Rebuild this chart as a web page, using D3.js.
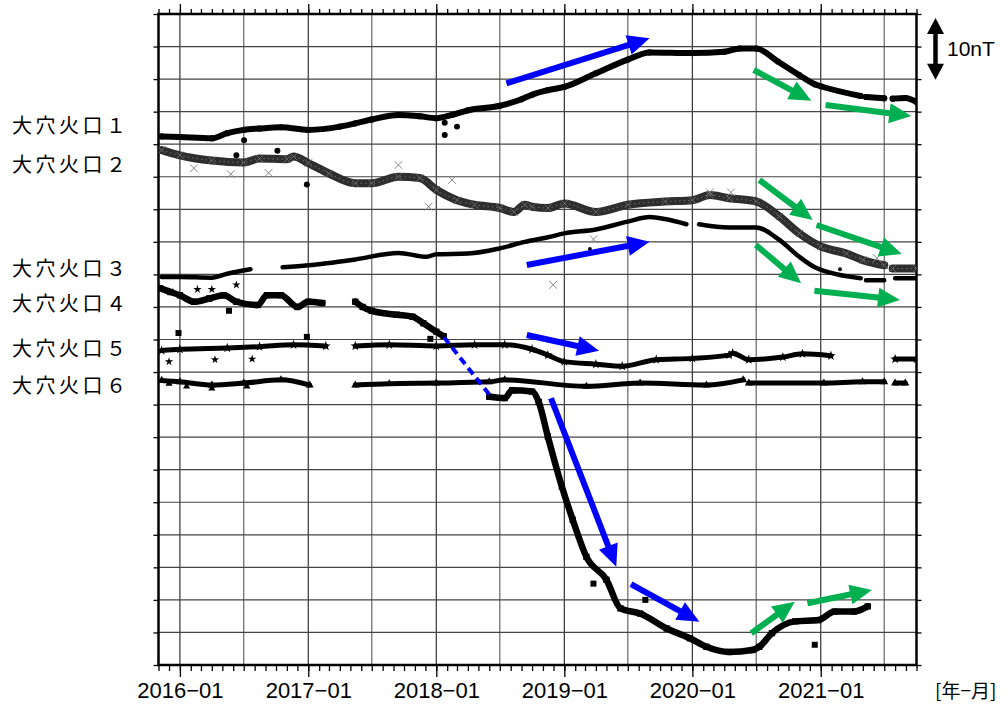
<!DOCTYPE html>
<html><head><meta charset="utf-8">
<script src="https://cdn.jsdelivr.net/npm/d3@7"></script>
<style>body{margin:0;background:#fff}svg{display:block}</style>
</head><body>
<svg id="c" width="1008" height="704"></svg>
<script>
// ---- data (relative magnetic total force, nT, offset per station) ----
const seriesNames = ["大穴火口１","大穴火口２","大穴火口３","大穴火口４","大穴火口５","大穴火口６"];
const labelLevels = [82.95, 76.96, 61.06, 55.76, 48.77, 43.16];

const s1 = [["2015-11-10",81.2],["2016-01-01",81.1],["2016-04-01",80.9],["2016-05-15",81.7],["2016-07-01",82.2],["2016-08-15",82.4],["2016-10-15",82.6],["2017-01-01",82.2],["2017-04-01",82.7],["2017-05-15",83.2],["2017-07-01",83.8],["2017-09-15",84.5],["2017-11-15",84.3],["2018-01-01",84.0],["2018-02-15",84.5],["2018-04-01",85.2],["2018-07-01",85.9],["2018-09-01",86.9],["2018-10-01",87.6],["2018-11-15",88.3],["2019-01-01",88.8],["2019-04-01",90.9],["2019-07-01",93.0],["2019-09-01",94.1],["2020-01-01",94.0],["2020-04-01",94.2],["2020-05-15",94.7],["2020-07-01",94.7],["2020-09-01",92.7],["2020-11-01",90.6],["2020-12-15",89.2],["2021-01-01",88.9],["2021-04-25",87.4],null,["2021-05-10",87.25],["2021-07-01",87.05],null,["2021-07-25",87.0],["2021-08-30",87.1],["2021-10-01",86.5]];
const s1Out = [["2016-07-02",80.6],["2016-06-10",78.3],["2016-10-05",79.0],["2016-12-28",73.8],["2018-01-25",81.4],["2018-03-01",82.7],["2018-01-25",83.3]];

const s2 = [["2015-11-10",79.1],["2016-01-01",78.3],["2016-04-01",77.5],["2016-07-01",77.2],["2016-08-15",77.8],["2016-11-01",77.7],["2016-11-20",78.1],["2017-01-01",77.1],["2017-03-01",75.5],["2017-05-15",74.0],["2017-07-01",74.0],["2017-09-15",75.0],["2017-11-15",74.8],["2018-01-01",73.0],["2018-03-01",71.4],["2018-04-20",70.7],["2018-07-01",70.2],["2018-08-10",69.6],["2018-09-10",70.7],["2018-10-01",70.4],["2018-11-15",70.2],["2019-01-01",70.9],["2019-04-01",69.6],["2019-07-01",70.7],["2019-10-15",71.2],["2020-01-01",71.4],["2020-02-20",72.2],["2020-04-15",71.7],["2020-07-01",71.2],["2020-09-05",68.9],["2020-11-01",66.3],["2021-01-01",64.3],["2021-03-15",63.2],["2021-05-01",62.2],["2021-07-01",61.4],null,["2021-07-25",60.9],["2021-10-01",60.9]];
const s2Out = [["2016-02-10",76.3],["2016-05-25",75.4],["2016-09-10",75.6],["2017-12-10",70.4],["2018-02-15",74.5],["2017-09-15",76.8],["2018-11-30",58.4],["2019-03-25",65.4],["2020-02-20",72.6],["2020-04-20",72.6],["2021-06-10",62.5]];

const s3 = [["2015-11-10",59.6],["2016-01-01",59.6],["2016-04-01",59.5],["2016-05-15",60.1],["2016-07-20",60.8],null,["2016-10-20",61.1],["2017-01-01",61.4],["2017-05-15",62.3],["2017-09-15",63.3],["2017-12-05",62.7],["2018-01-01",63.1],["2018-04-01",63.2],["2018-07-01",64.0],["2018-09-10",65.0],["2018-11-15",65.7],["2019-01-01",66.3],["2019-04-01",66.9],["2019-07-01",68.1],["2019-09-01",68.8],["2019-10-15",68.5],["2019-12-15",67.7],null,["2020-01-20",67.7],["2020-04-15",67.2],["2020-07-01",67.2],["2020-09-05",65.3],["2020-11-01",62.7],["2020-12-15",61.1],["2021-01-25",60.3],["2021-04-25",59.4],null,["2021-05-10",59.1],["2021-07-01",59.1],null,["2021-08-01",59.4],["2021-10-01",59.4]];
const s3Out = [["2019-03-15",63.9],["2021-02-25",60.8]];

const s4 = [["2015-11-05",57.9],["2015-12-05",57.3],["2016-01-01",56.8],["2016-02-10",55.8],["2016-03-25",56.3],["2016-05-05",56.8],["2016-06-10",55.8],["2016-08-10",55.3],["2016-09-05",56.8],["2016-10-15",56.8],["2016-12-01",55.0],["2017-01-01",55.8],["2017-02-10",55.6],null,["2017-05-15",55.8],["2017-06-05",55.0],["2017-07-01",54.4],["2017-09-10",53.8],["2017-10-25",53.5],["2017-11-25",52.5],["2018-01-01",51.2],["2018-01-22",50.5],null,["2018-06-01",41.2],["2018-07-15",41.0],["2018-08-05",42.2],["2018-10-01",42.0],["2018-10-20",40.4],["2018-11-15",35.1],["2018-12-25",27.4],["2019-01-25",22.3],["2019-03-05",16.6],["2019-05-01",13.1],["2019-06-10",8.7],["2019-08-05",7.9],["2019-10-20",5.6],["2019-12-25",4.1],["2020-02-10",2.8],["2020-04-15",2.0],["2020-06-20",2.3],["2020-07-10",2.8],["2020-08-15",4.9],["2020-10-20",6.7],["2020-12-25",6.9],["2021-02-10",8.2],["2021-04-05",8.2],["2021-05-15",9.0]];
const s4Out = [["2015-12-28",51.0],["2016-05-20",54.4],["2016-12-28",50.4],["2017-12-15",50.1],["2019-03-25",12.5],["2019-08-20",10.0],["2020-12-15",3.1]];

const s5 = [["2015-11-10",48.3],["2016-01-01",48.5],["2016-05-15",48.7],["2016-08-15",48.9],["2016-11-20",49.2],["2017-02-20",49.0],null,["2017-05-15",49.0],["2017-08-20",49.2],["2018-01-01",49.0],["2018-04-20",49.2],["2018-07-15",49.2],["2018-10-01",48.5],["2018-11-15",47.6],["2019-01-01",46.6],["2019-04-01",46.2],["2019-06-15",45.9],["2019-09-20",46.9],["2020-01-01",47.1],["2020-04-15",47.6],["2020-04-25",47.9],["2020-06-10",46.9],["2020-09-15",47.3],["2020-11-10",47.8],["2021-01-30",47.5],null,["2021-08-01",47.0],["2021-10-01",47.0]];
const s5Out = [["2015-12-01",46.6],["2016-04-10",46.9],["2016-07-25",47.0],["2016-02-20",57.7],["2016-04-01",57.7],["2016-06-10",58.4]];

const s6 = [["2015-11-10",43.7],["2016-01-01",43.5],["2016-04-01",43.0],["2016-07-01",43.3],["2016-10-15",43.8],["2017-01-05",43.0],null,["2017-05-15",43.0],["2017-08-20",43.2],["2018-01-01",43.3],["2018-06-01",43.5],["2018-07-15",43.8],["2019-03-05",42.8],["2019-08-05",43.3],["2020-02-10",43.0],["2020-05-25",43.8],null,["2020-06-10",43.3],["2021-01-10",43.3],["2021-04-30",43.5],["2021-07-01",43.5],null,["2021-08-01",43.3],["2021-08-30",43.3]];
const s6Out = [["2015-12-01",43.2],["2016-01-20",42.8],["2016-04-01",42.5],["2016-07-10",42.8]];

// trend arrows: [from date, from value, to date, to value, colour]
const arrows = [
  ["2018-07-20",89.35,"2019-09-01",96.27,"blue"],
  ["2020-06-24",91.40,"2020-12-05",86.68,"green"],
  ["2021-01-15",86.02,"2021-09-16",84.33,"green"],
  ["2020-07-10",74.50,"2020-12-09",68.36,"green"],
  ["2020-12-20",67.59,"2021-08-20",63.13,"green"],
  ["2018-09-16",61.44,"2019-09-01",65.02,"blue"],
  ["2020-06-30",64.52,"2020-11-06",58.63,"green"],
  ["2020-12-14",57.50,"2021-08-15",56.07,"green"],
  ["2018-09-16",50.69,"2019-04-10",48.28,"blue"],
  ["2018-11-24",40.97,"2019-05-29",15.10,"blue"],
  ["2019-07-10",12.44,"2020-01-21",6.65,"blue"],
  ["2020-06-17",4.87,"2020-10-19",9.72,"green"],
  ["2020-11-24",9.48,"2021-05-27",11.52,"green"]
];
const dashedLink = [["2018-01-23",50.34],["2018-06-02",41.47]];
const scaleBar = [89.9, 99.4]; // 10 nT span

const yearTicks = ["2016-01-01","2017-01-01","2018-01-01","2019-01-01","2020-01-01","2021-01-01"];

// ---- drawing ----
const P = d3.utcParse("%Y-%m-%d");
const conv = a => a.map(d => d ? {t:P(d[0]), v:d[1]} : null);
const svg = d3.select("#c");
const L=158.5, R=916.5, T=14, B=665;
const x = d3.scaleUtc().domain([P("2015-11-01"), P("2021-10-01")]).range([L,R]);
const y = d3.scaleLinear().domain([0,100]).range([B,T]);
const COL = {blue:"#0000ff", green:"#00b050"};

// grid
const halfYears = d3.utcMonth.every(6).range(P("2016-01-01"), P("2021-10-01"));
svg.append("g").selectAll("line").data(halfYears).join("line")
  .attr("x1",d=>x(d)).attr("x2",d=>x(d)).attr("y1",T).attr("y2",B)
  .attr("stroke",d=>d.getUTCMonth()===0?"#333":"#666").attr("stroke-width",1.2);
const yVals = d3.range(5,100,5);
svg.append("g").selectAll("line").data(yVals).join("line")
  .attr("x1",L).attr("x2",R).attr("y1",d=>y(d)).attr("y2",d=>y(d))
  .attr("stroke","#444").attr("stroke-width",1.2);

// axes
const months = d3.utcMonth.range(P("2015-11-01"), P("2021-10-02"));
const years = yearTicks.map(P);
function styleAxis(g){ g.select(".domain").remove(); g.selectAll(".tick line").attr("stroke","#000").attr("stroke-width",1.3); }
svg.append("g").attr("transform",`translate(0,${B})`).call(d3.axisBottom(x).tickValues(months).tickSize(6).tickFormat("")).call(styleAxis);
svg.append("g").attr("transform",`translate(0,${T})`).call(d3.axisTop(x).tickValues(months).tickSize(5).tickFormat("")).call(styleAxis);
svg.append("g").attr("transform",`translate(0,${B})`).call(d3.axisBottom(x).tickValues(years).tickSize(12).tickPadding(5).tickFormat(d3.utcFormat("%Y−%m"))).call(styleAxis)
  .selectAll("text").attr("font-family","Liberation Sans, Arial, sans-serif").attr("font-size",22).attr("fill","#000");
svg.append("g").attr("transform",`translate(0,${T})`).call(d3.axisTop(x).tickValues(years).tickSize(10).tickFormat("")).call(styleAxis);
const yt = d3.range(0,101,5);
svg.append("g").attr("transform",`translate(${L},0)`).call(d3.axisLeft(y).tickValues(yt).tickSize(5).tickFormat("")).call(styleAxis);
svg.append("g").attr("transform",`translate(${R},0)`).call(d3.axisRight(y).tickValues(yt).tickSize(5).tickFormat("")).call(styleAxis);

// frame
svg.append("rect").attr("x",L).attr("y",T).attr("width",R-L).attr("height",B-T)
  .attr("fill","none").attr("stroke","#000").attr("stroke-width",2.5);

// series
const line = d3.line().defined(d=>d!==null).x(d=>x(d.t)).y(d=>y(d.v)).curve(d3.curveMonotoneX);
svg.append("clipPath").attr("id","pc").append("rect").attr("x",L).attr("y",T).attr("width",R-L).attr("height",B-T);
const plot = svg.append("g").attr("clip-path","url(#pc)");

function band(data, w, color){
  plot.append("path").attr("d",line(conv(data))).attr("fill","none").attr("stroke",color)
    .attr("stroke-width",w).attr("stroke-linecap","round").attr("stroke-linejoin","round");
}
function marks(data, sym, size, color, fill=true){
  plot.append("g").selectAll("path").data(conv(data).filter(d=>d)).join("path")
    .attr("transform",d=>`translate(${x(d.t)},${y(d.v)})`)
    .attr("d",d3.symbol(sym,size))
    .attr("fill",fill?color:"none").attr("stroke",fill?"none":color).attr("stroke-width",1);
}
// series 2: grey crosses band
band(s2, 8, "#2e2e2e");
plot.append("path").attr("d",line(conv(s2))).attr("fill","none").attr("stroke","#6e6e6e")
  .attr("stroke-width",1).attr("stroke-dasharray","1.5,3");
marks(s2, d3.symbolTimes, 36, "#666", false);
marks(s2Out, d3.symbolTimes, 40, "#888", false);

band(s1, 6, "#000"); marks(s1, d3.symbolCircle, 30, "#000"); marks(s1Out, d3.symbolCircle, 28, "#000");
band(s3, 4.5, "#000"); marks(s3Out, d3.symbolCircle, 12, "#000");
band(s4, 6.5, "#000"); marks(s4, d3.symbolSquare, 40, "#000"); marks(s4Out, d3.symbolSquare, 36, "#000");
band(s5, 5, "#000"); marks(s5, d3.symbolStar, 30, "#000"); marks(s5Out, d3.symbolStar, 22, "#000");
band(s6, 5, "#000"); marks(s6, d3.symbolTriangle, 28, "#000"); marks(s6Out, d3.symbolTriangle, 22, "#000");

// dashed link
const dl = conv(dashedLink);
svg.append("line").attr("x1",x(dl[0].t)).attr("y1",y(dl[0].v)).attr("x2",x(dl[1].t)).attr("y2",y(dl[1].v))
  .attr("stroke",COL.blue).attr("stroke-width",4).attr("stroke-dasharray","8,5");

// arrows
const ag = svg.append("g");
arrows.forEach(a=>{
  const x0=x(P(a[0])), y0=y(a[1]), x1=x(P(a[2])), y1=y(a[3]);
  const dx=x1-x0, dy=y1-y0, len=Math.hypot(dx,dy), ux=dx/len, uy=dy/len, nx=-uy, ny=ux;
  const hl=22, hw=10, c=COL[a[4]];
  const bx=x1-ux*hl, by=y1-uy*hl;
  ag.append("line").attr("x1",x0).attr("y1",y0).attr("x2",bx+ux*2).attr("y2",by+uy*2)
    .attr("stroke",c).attr("stroke-width",6);
  ag.append("path").attr("d",`M${x1},${y1}L${bx+nx*hw},${by+ny*hw}L${bx-nx*hw},${by-ny*hw}Z`).attr("fill",c);
});

// station labels
svg.append("g").selectAll("text").data(seriesNames).join("text")
  .attr("x",12).attr("y",(d,i)=>y(labelLevels[i])).attr("dominant-baseline","central")
  .attr("font-family","Noto Sans CJK JP, sans-serif").attr("font-size",20).attr("letter-spacing",3.5)
  .attr("fill","#000").text(d=>d);

// scale bar 10nT
const sb = svg.append("g");
const sx=935.5, sTop=y(scaleBar[1]), sBot=y(scaleBar[0]);
sb.append("line").attr("x1",sx).attr("x2",sx).attr("y1",sTop+12).attr("y2",sBot-12).attr("stroke","#000").attr("stroke-width",4.5);
sb.append("path").attr("d",`M${sx},${sTop}L${sx-8.5},${sTop+16}L${sx+8.5},${sTop+16}Z`).attr("fill","#000");
sb.append("path").attr("d",`M${sx},${sBot}L${sx-8.5},${sBot-16}L${sx+8.5},${sBot-16}Z`).attr("fill","#000");
sb.append("text").attr("x",947).attr("y",(sTop+sBot)/2).attr("dominant-baseline","central")
  .attr("font-family","Liberation Sans, Arial, sans-serif").attr("font-size",21).text("10nT");

svg.append("text").attr("x",935).attr("y",698).attr("font-family","Noto Sans CJK JP, sans-serif")
  .attr("font-size",19).text("[年−月]");
</script>
</body></html>
